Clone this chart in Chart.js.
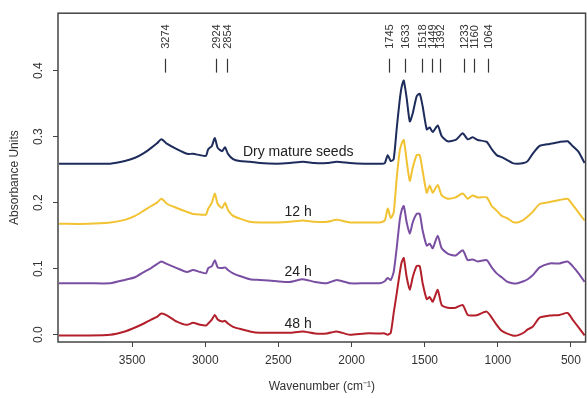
<!DOCTYPE html>
<html>
<head>
<meta charset="utf-8">
<script src="https://cdn.jsdelivr.net/npm/chart.js@4.4.0/dist/chart.umd.min.js"></script>
<style>
  html, body { margin: 0; padding: 0; background: #fff; }
</style>
</head>
<body>
<canvas id="ftirChart" width="587" height="398"></canvas>
<script>
// Wavenumbers (cm-1) where the spectra were read
const wavenumbers = [4000, 3800, 3650, 3550, 3480, 3420, 3370, 3330, 3300, 3260,
  3195, 3125, 3085, 3035, 2995, 2980, 2955, 2935, 2915, 2885,
  2865, 2845, 2810, 2765, 2695, 2627, 2510, 2422, 2333, 2251,
  2169, 2101, 2012, 1910, 1807, 1773, 1753, 1732, 1712, 1691,
  1671, 1657, 1643, 1623, 1602, 1582, 1555, 1534, 1514, 1486,
  1466, 1445, 1411, 1384, 1343, 1288, 1240, 1206, 1172, 1138,
  1076, 1042, 1008, 974, 940, 899, 865, 824, 796, 762,
  714, 646, 578, 523, 489, 448, 407];

const drySeeds = [0.259, 0.259, 0.259, 0.263, 0.268, 0.275, 0.283, 0.290, 0.296, 0.289,
  0.281, 0.274, 0.274, 0.272, 0.271, 0.281, 0.286, 0.298, 0.283, 0.278,
  0.284, 0.274, 0.266, 0.263, 0.262, 0.260, 0.259, 0.260, 0.262, 0.260,
  0.260, 0.262, 0.260, 0.259, 0.259, 0.260, 0.272, 0.263, 0.266, 0.313,
  0.355, 0.376, 0.385, 0.358, 0.323, 0.335, 0.361, 0.365, 0.346, 0.311,
  0.314, 0.307, 0.317, 0.301, 0.293, 0.295, 0.305, 0.296, 0.299, 0.295,
  0.292, 0.281, 0.272, 0.269, 0.265, 0.260, 0.259, 0.260, 0.263, 0.274,
  0.286, 0.289, 0.292, 0.293, 0.286, 0.277, 0.260];

const hours12 = [0.168, 0.168, 0.170, 0.174, 0.180, 0.188, 0.195, 0.200, 0.206, 0.198,
  0.192, 0.186, 0.183, 0.182, 0.182, 0.191, 0.200, 0.214, 0.198, 0.192,
  0.200, 0.189, 0.180, 0.176, 0.171, 0.170, 0.170, 0.171, 0.173, 0.171,
  0.171, 0.174, 0.170, 0.170, 0.170, 0.173, 0.191, 0.177, 0.185, 0.238,
  0.278, 0.290, 0.295, 0.263, 0.233, 0.253, 0.272, 0.272, 0.248, 0.215,
  0.226, 0.215, 0.227, 0.211, 0.206, 0.208, 0.214, 0.206, 0.211, 0.208,
  0.208, 0.195, 0.188, 0.180, 0.177, 0.171, 0.170, 0.174, 0.179, 0.186,
  0.198, 0.201, 0.204, 0.206, 0.197, 0.185, 0.173];

const hours24 = [0.078, 0.078, 0.078, 0.083, 0.087, 0.095, 0.101, 0.107, 0.111, 0.107,
  0.101, 0.095, 0.098, 0.095, 0.093, 0.101, 0.104, 0.113, 0.102, 0.101,
  0.102, 0.098, 0.093, 0.089, 0.084, 0.083, 0.081, 0.080, 0.084, 0.080,
  0.078, 0.083, 0.078, 0.078, 0.078, 0.081, 0.086, 0.083, 0.095, 0.132,
  0.173, 0.189, 0.195, 0.170, 0.153, 0.170, 0.183, 0.183, 0.158, 0.135,
  0.138, 0.131, 0.150, 0.131, 0.123, 0.120, 0.128, 0.113, 0.114, 0.111,
  0.113, 0.102, 0.093, 0.087, 0.081, 0.078, 0.078, 0.081, 0.084, 0.090,
  0.102, 0.108, 0.108, 0.111, 0.104, 0.093, 0.080];

const hours48 = [-0.001, -0.001, 0.000, 0.005, 0.011, 0.017, 0.023, 0.027, 0.032, 0.029,
  0.020, 0.015, 0.018, 0.015, 0.014, 0.017, 0.023, 0.030, 0.023, 0.020,
  0.021, 0.017, 0.012, 0.009, 0.005, 0.003, 0.003, 0.003, 0.005, 0.002,
  0.002, 0.005, 0.000, 0.002, 0.002, 0.002, 0.000, 0.003, 0.033, 0.063,
  0.093, 0.110, 0.116, 0.087, 0.068, 0.087, 0.104, 0.104, 0.078, 0.054,
  0.057, 0.050, 0.068, 0.045, 0.041, 0.041, 0.045, 0.030, 0.029, 0.030,
  0.035, 0.026, 0.015, 0.006, 0.002, -0.001, -0.001, 0.003, 0.008, 0.012,
  0.026, 0.029, 0.030, 0.033, 0.023, 0.011, -0.001];

const seriesNames = ['Dry mature seeds', '12 h', '24 h', '48 h'];
const peakLabels = [3274, 2924, 2854, 1745, 1633, 1518, 1449, 1392, 1233, 1160, 1064];
const xTicks = [3500, 3000, 2500, 2000, 1500, 1000, 500];
const yTicks = [0, 0.1, 0.2, 0.3, 0.4];

const FONT = '"Liberation Sans", Arial, sans-serif';
Chart.defaults.font.family = FONT;
Chart.defaults.color = '#333';

const toPoints = vals => vals.map((v, i) => ({ x: wavenumbers[i], y: v }));

const colors = ['#1e2c5c', '#f1c232', '#7a4fa3', '#b3202b'];
const datasets = [drySeeds, hours12, hours24, hours48].map((vals, i) => ({
  label: seriesNames[i],
  data: toPoints(vals),
  borderColor: colors[i],
  borderWidth: 2,
  pointRadius: 0,
  tension: 0.2,
  fill: false
}));

// frame, peak markers and curve names
const overlay = {
  id: 'overlay',
  afterDraw(chart) {
    const { ctx, chartArea: a, scales: { x, y } } = chart;
    ctx.save();
    ctx.strokeStyle = '#444';
    ctx.lineWidth = 1.5;
    ctx.strokeRect(a.left, a.top, a.right - a.left, a.bottom - a.top);

    ctx.strokeStyle = '#333';
    ctx.lineWidth = 1.2;
    ctx.fillStyle = '#333';
    ctx.font = '11px ' + FONT;
    peakLabels.forEach(p => {
      const px = Math.round(x.getPixelForValue(p)) + 0.5;
      ctx.beginPath();
      ctx.moveTo(px, y.getPixelForValue(0.418));
      ctx.lineTo(px, y.getPixelForValue(0.397));
      ctx.stroke();
      ctx.save();
      ctx.translate(px, y.getPixelForValue(0.433));
      ctx.rotate(-Math.PI / 2);
      ctx.textAlign = 'left';
      ctx.textBaseline = 'middle';
      ctx.fillText(String(p), 0, 0);
      ctx.restore();
    });

    ctx.font = '14px ' + FONT;
    ctx.fillStyle = '#222';
    ctx.textAlign = 'center';
    ctx.textBaseline = 'middle';
    chart.data.datasets.forEach(ds => {
      ctx.fillText(ds.label, x.getPixelForValue(2365), y.getPixelForValue(ds.data[0].y + 0.017));
    });
    ctx.restore();
  }
};

const tickGrid = { drawOnChartArea: false, drawTicks: true, tickLength: 5, color: '#444', lineWidth: 1 };

new Chart(document.getElementById('ftirChart'), {
  type: 'line',
  data: { datasets },
  options: {
    responsive: false,
    animation: false,
    layout: { padding: { top: 11, right: 1, left: 0, bottom: 0 } },
    plugins: { legend: { display: false }, tooltip: { enabled: false } },
    scales: {
      x: {
        type: 'linear',
        reverse: true,
        min: 400,
        max: 4007,
        afterBuildTicks: s => { s.ticks = xTicks.map(v => ({ value: v })); },
        afterFit: s => { s.height = 56; },
        grid: tickGrid,
        border: { display: false },
        ticks: { font: { size: 12 }, color: '#333', padding: 6, maxRotation: 0, callback: v => String(v) },
        title: { display: true, text: 'Wavenumber (cm⁻¹)', font: { size: 12 }, color: '#333', padding: { top: 0, bottom: 4 } }
      },
      y: {
        min: -0.011,
        max: 0.487,
        afterBuildTicks: s => { s.ticks = yTicks.map(v => ({ value: v })); },
        afterFit: s => { s.width = 58; },
        grid: tickGrid,
        border: { display: false },
        ticks: { font: { size: 12 }, color: '#333', minRotation: 90, maxRotation: 90, crossAlign: 'center', padding: 6,
          callback: v => v.toFixed(1) },
        title: { display: true, text: 'Absorbance Units', font: { size: 12 }, color: '#333', padding: { top: 7, bottom: 0 } }
      }
    }
  },
  plugins: [overlay]
});
</script>
</body>
</html>
